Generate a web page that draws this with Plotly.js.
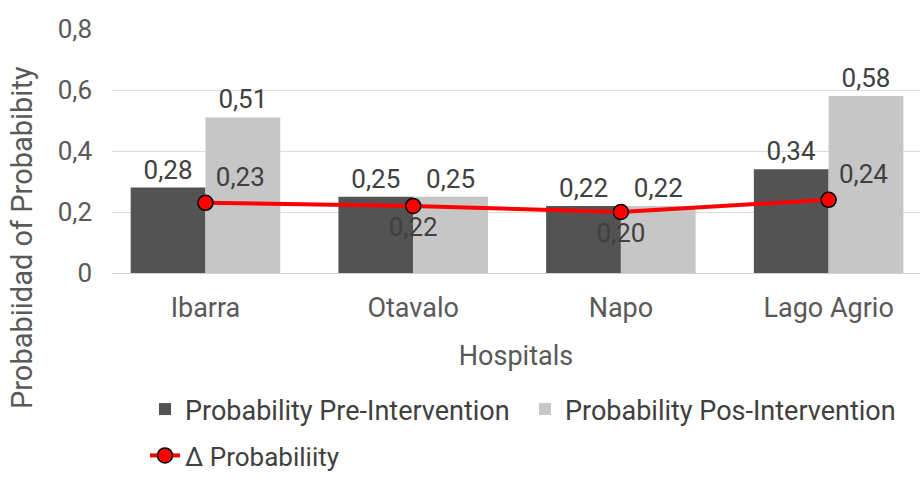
<!DOCTYPE html>
<html>
<head>
<meta charset="utf-8">
<script src="https://cdn.plot.ly/plotly-3.0.1.min.js"></script>
<style>
  html, body { margin: 0; padding: 0; background: #ffffff; }
  #chart { width: 920px; height: 479px; }
</style>
</head>
<body>
<div id="chart"></div>
<script>
// Hospitals and probabilities before / after the intervention
const hospitals = ['Ibarra', 'Otavalo', 'Napo', 'Lago Agrio'];
const preIntervention = [0.28, 0.25, 0.22, 0.34];
const posIntervention = [0.51, 0.25, 0.22, 0.58];
const deltaProbability = [0.23, 0.22, 0.20, 0.24];
const deltaLabelPositions = ['top right', 'bottom center', 'bottom center', 'top right'];

const yTickValues = [0, 0.2, 0.4, 0.6, 0.8];
const yTickLabels = ['0', '0,2', '0,4', '0,6', '0,8'];

const FONT = 'Roboto, "Liberation Sans", Arial, sans-serif';
const TEXT_DARK = '#404040';
const AXIS_TEXT = '#595959';

const traces = [
  {
    type: 'bar',
    name: 'Probability Pre-Intervention',
    x: hospitals,
    y: preIntervention,
    marker: { color: '#535353' },
    texttemplate: '%{y:.2f}',
    textposition: 'outside',
    constraintext: 'none',
    cliponaxis: false,
    textfont: { family: FONT, size: 26, color: TEXT_DARK },
    hoverinfo: 'skip',
    legend: 'legend'
  },
  {
    type: 'bar',
    name: 'Probability Pos-Intervention',
    x: hospitals,
    y: posIntervention,
    marker: { color: '#c6c6c6' },
    texttemplate: '%{y:.2f}',
    textposition: 'outside',
    constraintext: 'none',
    cliponaxis: false,
    textfont: { family: FONT, size: 26, color: TEXT_DARK },
    hoverinfo: 'skip',
    legend: 'legend'
  },
  {
    type: 'scatter',
    mode: 'lines+markers+text',
    name: '\u0394 Probabiliity',
    x: hospitals,
    y: deltaProbability,
    line: { color: '#ff0000', width: 4 },
    marker: { size: 15, color: '#ff0000', line: { color: '#000000', width: 1.5 } },
    texttemplate: '%{y:.2f}',
    textposition: deltaLabelPositions,
    textfont: { family: FONT, size: 26, color: TEXT_DARK },
    cliponaxis: false,
    hoverinfo: 'skip',
    legend: 'legend2'
  }
];

const layout = {
  width: 920,
  height: 479,
  margin: { l: 112, r: 0, t: 29, b: 206 },
  paper_bgcolor: '#ffffff',
  plot_bgcolor: '#ffffff',
  separators: ',.',
  font: { family: FONT, color: AXIS_TEXT },
  barmode: 'group',
  bargap: 0.28,
  bargroupgap: 0,
  showlegend: true,
  xaxis: {
    type: 'category',
    range: [-0.45, 3.44],
    showgrid: false,
    showline: false,
    zeroline: false,
    ticks: '',
    ticklabelstandoff: 16,
    tickfont: { family: FONT, size: 27, color: AXIS_TEXT },
    title: { text: 'Hospitals', font: { family: FONT, size: 27, color: AXIS_TEXT }, standoff: 23 },
    automargin: false,
    fixedrange: true
  },
  yaxis: {
    range: [0, 0.8],
    tickvals: yTickValues,
    ticktext: yTickLabels,
    showgrid: true,
    gridcolor: '#dcdcdc',
    gridwidth: 1,
    zeroline: true,
    zerolinecolor: '#d0d0d0',
    zerolinewidth: 1,
    showline: false,
    ticks: '',
    ticklabelstandoff: 19,
    tickfont: { family: FONT, size: 26, color: AXIS_TEXT },
    automargin: false,
    fixedrange: true
  },
  legend: {
    orientation: 'h',
    xref: 'container',
    yref: 'container',
    x: 145 / 920,
    y: 1 - 385 / 479,
    xanchor: 'left',
    yanchor: 'top',
    entrywidth: 335,
    font: { family: FONT, size: 27, color: TEXT_DARK },
    bgcolor: 'rgba(0,0,0,0)'
  },
  legend2: {
    orientation: 'h',
    xref: 'container',
    yref: 'container',
    x: 145 / 920,
    y: 0,
    xanchor: 'left',
    yanchor: 'bottom',
    font: { family: FONT, size: 26, color: TEXT_DARK },
    bgcolor: 'rgba(0,0,0,0)'
  },
  annotations: [
    {
      text: 'Probabiidad of Probabibity',
      xref: 'paper',
      yref: 'paper',
      x: (22 - 112) / 808,
      y: (273 - 238) / 244,
      xanchor: 'center',
      yanchor: 'middle',
      textangle: -90,
      showarrow: false,
      font: { family: FONT, size: 29, color: AXIS_TEXT }
    }
  ]
};

Plotly.newPlot('chart', traces, layout, { displayModeBar: false, staticPlot: true });
</script>
</body>
</html>
